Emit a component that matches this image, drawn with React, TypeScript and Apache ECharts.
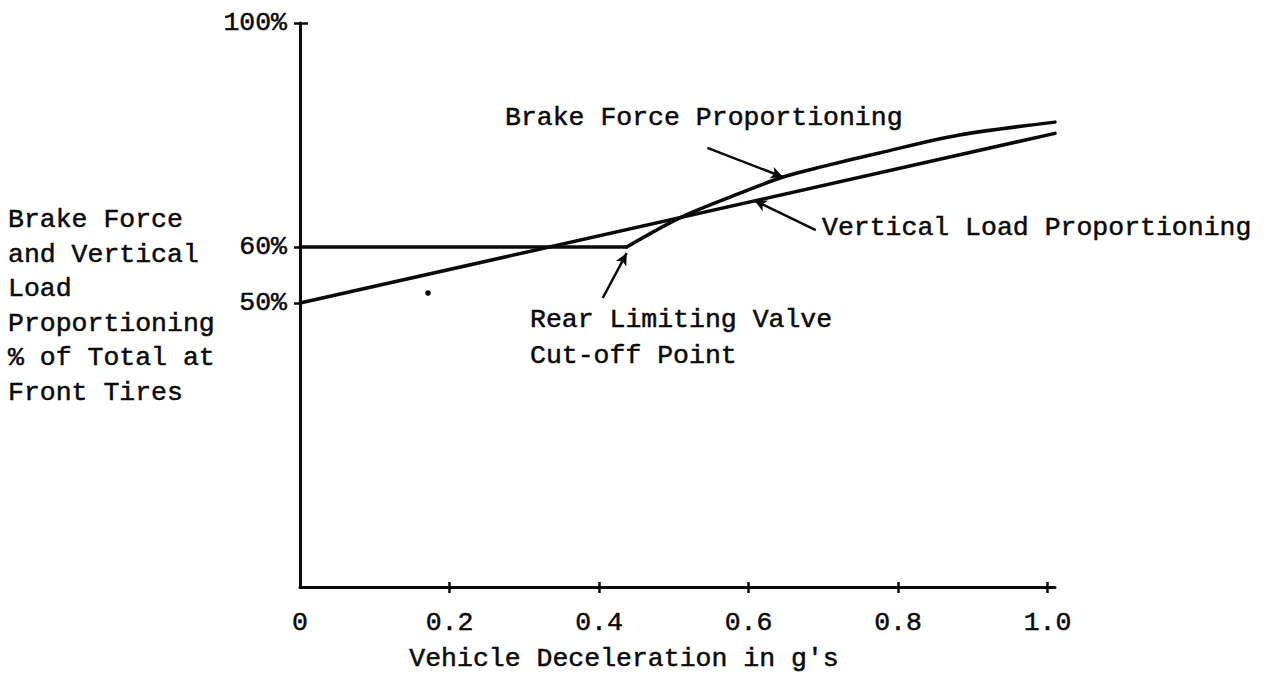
import React, { useEffect, useRef } from "react";
import * as echarts from "echarts";

const FONT = '"Liberation Mono", "Courier New", monospace';
const INK = "#0a0a0a";
const FONT_SIZE = 26.5;

// Axis ticks and labels
const xTickValues = [0, 0.2, 0.4, 0.6, 0.8, 1.0];
const xTickMarks = [0.2, 0.4, 0.6, 0.8, 1.0];
const yTickValues = [50, 60, 100];

// Vertical load share at the front tires (% of total) vs deceleration (g)
const verticalLoad: number[][] = [
  [0, 50],
  [1.01, 80.3],
];

// Brake force share at the front: constant until the rear limiting valve cuts off
const brakeForceFlat: number[][] = [
  [0, 60],
  [0.437, 60],
];
const brakeForceRise: number[][] = [
  [0.437, 60],
  [0.508, 65.2],
  [0.577, 69.0],
  [0.646, 72.5],
  [0.7, 74.4],
  [0.775, 76.8],
  [0.882, 80.0],
  [1.01, 82.3],
];

// Callout arrows: [tail, head] in data units, with curvature
const calloutBrake = { from: [0.545, 77.7], to: [0.646, 72.5], curveness: 0.25 };
const calloutLoad = { from: [0.69, 63.0], to: [0.608, 68.3], curveness: 0.25 };
const calloutValve = { from: [0.405, 50.9], to: [0.437, 58.9], curveness: -0.3 };

const callouts = [calloutBrake, calloutLoad, calloutValve];

const yTitleLines = [
  "Brake Force",
  "and Vertical",
  "Load",
  "Proportioning",
  "% of Total at",
  "Front Tires",
];

export default function App() {
  const ref = useRef<HTMLDivElement>(null);

  useEffect(() => {
    if (!ref.current) return;
    const chart = echarts.init(ref.current, null, { renderer: "svg" });

    const label = (text: string, x: number, y: number, extra: any = {}) => ({
      type: "text",
      x,
      y,
      silent: true,
      style: {
        text,
        fontFamily: FONT,
        fontSize: FONT_SIZE,
        fill: INK,
        stroke: INK,
        lineWidth: 0.5,
        align: "left",
        verticalAlign: "middle",
        ...extra,
      },
    });

    const lineStyle = { color: INK, width: 3.5, cap: "round", join: "round" };
    const tickText = {
      fontFamily: FONT,
      fontSize: FONT_SIZE,
      color: INK,
      textBorderColor: INK,
      textBorderWidth: 0.5,
    };

    const option: any = {
      animation: false,
      backgroundColor: "#ffffff",
      grid: { left: 300, top: 23, width: 755, height: 564 },
      xAxis: [
        {
          type: "value",
          min: 0,
          max: 1.01,
          position: "bottom",
          axisLine: { show: true, onZero: false, lineStyle: { color: INK, width: 3 } },
          axisTick: {
            show: true,
            length: 6,
            customValues: xTickMarks,
            lineStyle: { color: INK, width: 2.5 },
          },
          axisLabel: {
            show: true,
            customValues: xTickValues,
            formatter: (v: number) => (v === 0 ? "0" : v.toFixed(1)),
            margin: 22,
            ...tickText,
          },
          splitLine: { show: false },
        },
        {
          type: "value",
          min: 0,
          max: 1.01,
          position: "bottom",
          axisLine: { show: false, onZero: false },
          axisTick: {
            show: true,
            inside: true,
            length: 5,
            customValues: xTickMarks,
            lineStyle: { color: INK, width: 2.5 },
          },
          axisLabel: { show: false },
          splitLine: { show: false },
        },
      ],
      yAxis: [
        {
          type: "value",
          min: -0.7,
          max: 100,
          position: "left",
          axisLine: { show: true, onZero: false, lineStyle: { color: INK, width: 3 } },
          axisTick: {
            show: true,
            length: 6,
            customValues: yTickValues,
            lineStyle: { color: INK, width: 2.5 },
          },
          axisLabel: {
            show: true,
            customValues: yTickValues,
            formatter: (v: number) => `${v}%`,
            margin: 13,
            ...tickText,
          },
          splitLine: { show: false },
        },
        {
          type: "value",
          min: -0.7,
          max: 100,
          position: "left",
          axisLine: { show: false, onZero: false },
          axisTick: {
            show: true,
            inside: true,
            length: 8,
            customValues: [100],
            lineStyle: { color: INK, width: 2.5 },
          },
          axisLabel: { show: false },
          splitLine: { show: false },
        },
      ],
      series: [
        {
          name: "Vertical Load Proportioning",
          type: "line",
          xAxisIndex: 0,
          yAxisIndex: 0,
          data: verticalLoad,
          showSymbol: false,
          symbol: "none",
          lineStyle,
          silent: true,
          markLine: {
            silent: true,
            symbol: ["none", "arrow"],
            symbolSize: [9, 12],
            label: { show: false },
            emphasis: { disabled: true },
            lineStyle: { color: INK, width: 2.5, type: "solid" },
            data: callouts.map((c) => [
              { coord: c.from, lineStyle: { curveness: c.curveness, color: INK, width: 2.5, type: "solid" } },
              { coord: c.to, lineStyle: { curveness: c.curveness, color: INK, width: 2.5, type: "solid" } },
            ]),
          },
        },
        {
          name: "Brake Force Proportioning",
          type: "line",
          xAxisIndex: 0,
          yAxisIndex: 0,
          data: brakeForceFlat,
          showSymbol: false,
          symbol: "none",
          lineStyle,
          silent: true,
        },
        {
          name: "Brake Force Proportioning",
          type: "line",
          xAxisIndex: 0,
          yAxisIndex: 0,
          data: brakeForceRise,
          smooth: 0.3,
          showSymbol: false,
          symbol: "none",
          lineStyle,
          silent: true,
        },
      ],
      graphic: [
        ...yTitleLines.map((t, i) => label(t, 8, 220 + i * 34.6)),
        label("Brake Force Proportioning", 505, 118),
        label("Vertical Load Proportioning", 822, 228),
        label("Rear Limiting Valve", 530, 320),
        label("Cut-off Point", 530, 356),
        label("Vehicle Deceleration in g's", 624, 659, { align: "center" }),
        {
          type: "circle",
          silent: true,
          shape: { cx: 428, cy: 293, r: 2.8 },
          style: { fill: INK },
        },
      ],
    };

    chart.setOption(option);
    return () => chart.dispose();
  }, []);

  return (
    <div
      ref={ref}
      style={{
        position: "fixed",
        left: 0,
        top: 0,
        width: 1273,
        height: 679,
        background: "#ffffff",
      }}
    />
  );
}
